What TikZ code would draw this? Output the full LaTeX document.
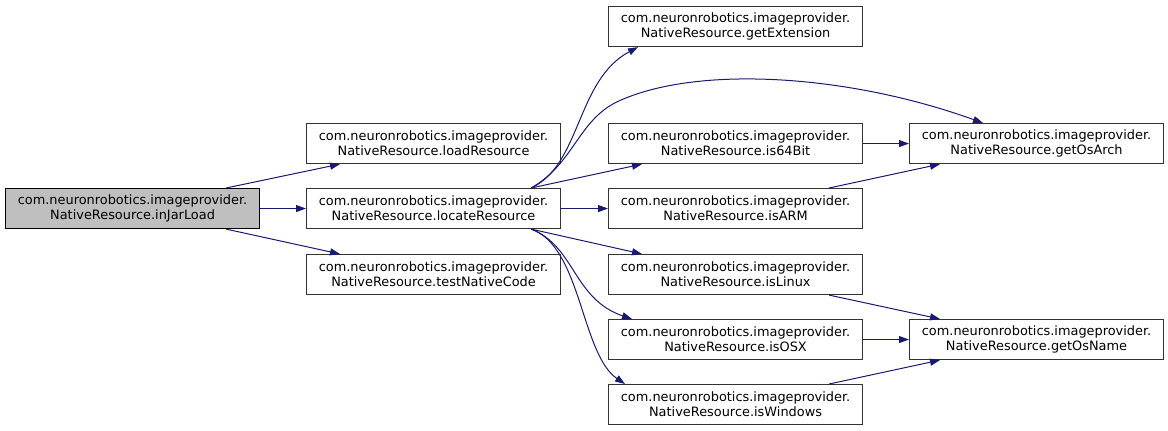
\documentclass[tikz,border=0pt]{standalone}
\usepackage{fontspec}
\setmainfont{DejaVu Sans}
\usetikzlibrary{arrows.meta,calc}
\definecolor{edgec}{HTML}{191970}
\definecolor{nodeb}{HTML}{333333}
\begin{document}
\begin{tikzpicture}[x=1pt,y=-1pt,
  fn/.style={draw=nodeb,line width=1.1pt,minimum width=254pt,minimum height=40pt,inner sep=0pt,align=center,anchor=north west,font=\fontsize{12.9}{15}\selectfont},
  root/.style={fn,draw=black,fill=black!25},
  call/.style={draw=edgec,line width=1pt,-{Triangle[length=10pt,width=7pt]}}]
\useasboundingbox (0,0) rectangle (1168,431);
\node[root] (inJar) at (5,188) {com.neuronrobotics.imageprovider.\\NativeResource.inJarLoad};
\node[fn] (load) at (306,123) {com.neuronrobotics.imageprovider.\\NativeResource.loadResource};
\node[fn] (loc) at (306,188) {com.neuronrobotics.imageprovider.\\NativeResource.locateResource};
\node[fn] (test) at (306,254) {com.neuronrobotics.imageprovider.\\NativeResource.testNativeCode};
\node[fn] (ext) at (608,6) {com.neuronrobotics.imageprovider.\\NativeResource.getExtension};
\node[fn] (b64) at (608,123) {com.neuronrobotics.imageprovider.\\NativeResource.is64Bit};
\node[fn] (arm) at (608,188) {com.neuronrobotics.imageprovider.\\NativeResource.isARM};
\node[fn] (lin) at (608,254) {com.neuronrobotics.imageprovider.\\NativeResource.isLinux};
\node[fn] (osx) at (608,319) {com.neuronrobotics.imageprovider.\\NativeResource.isOSX};
\node[fn] (win) at (608,384) {com.neuronrobotics.imageprovider.\\NativeResource.isWindows};
\node[fn] (arch) at (909,123) {com.neuronrobotics.imageprovider.\\NativeResource.getOsArch};
\node[fn] (name) at (909,319) {com.neuronrobotics.imageprovider.\\NativeResource.getOsName};
% inJarLoad
\draw[call] ([xshift=-34pt]inJar.north east) -- ([xshift=34pt]load.south west);
\draw[call] (inJar.east) -- (loc.west);
\draw[call] ([xshift=-34pt]inJar.south east) -- ([xshift=34pt]test.north west);
% locateResource
\draw[call] ([xshift=-30pt]loc.north east) .. controls ($(loc.north east)+(20,-23)$) and ($(loc.north east)+(15,-108)$) .. ([xshift=30pt]ext.south west);
\draw[call] ([xshift=-30pt]loc.north east) .. controls ($(loc.north east)+(14,-25)$) and ($(loc.north east)+(17,-70)$) .. ($(loc.north east)+(60,-88)$) .. controls ($(loc.north east)+(140,-123)$) and ($(arch.north west)+(-59,-48)$) .. ([xshift=74pt]arch.north west);
\draw[call] ([xshift=-30pt]loc.north east) -- ([xshift=34pt]b64.south west);
\draw[call] (loc.east) -- (arm.west);
\draw[call] ([xshift=-30pt]loc.south east) -- ([xshift=34pt]lin.north west);
\draw[call] ([xshift=-30pt]loc.south east) .. controls ($(loc.south east)+(14,17)$) and ($(loc.south east)+(12,70)$) .. ([xshift=24pt]osx.north west);
\draw[call] ([xshift=-30pt]loc.south east) .. controls ($(loc.south east)+(20,17)$) and ($(loc.south east)+(20,125)$) .. ([xshift=17pt]win.north west);
% to getOsArch / getOsName
\draw[call] (b64.east) -- (arch.west);
\draw[call] ([xshift=-34pt]arm.north east) -- ([xshift=31pt]arch.south west);
\draw[call] ([xshift=-34pt]lin.south east) -- ([xshift=31pt]name.north west);
\draw[call] (osx.east) -- (name.west);
\draw[call] ([xshift=-34pt]win.north east) -- ([xshift=31pt]name.south west);
\end{tikzpicture}
\end{document}
